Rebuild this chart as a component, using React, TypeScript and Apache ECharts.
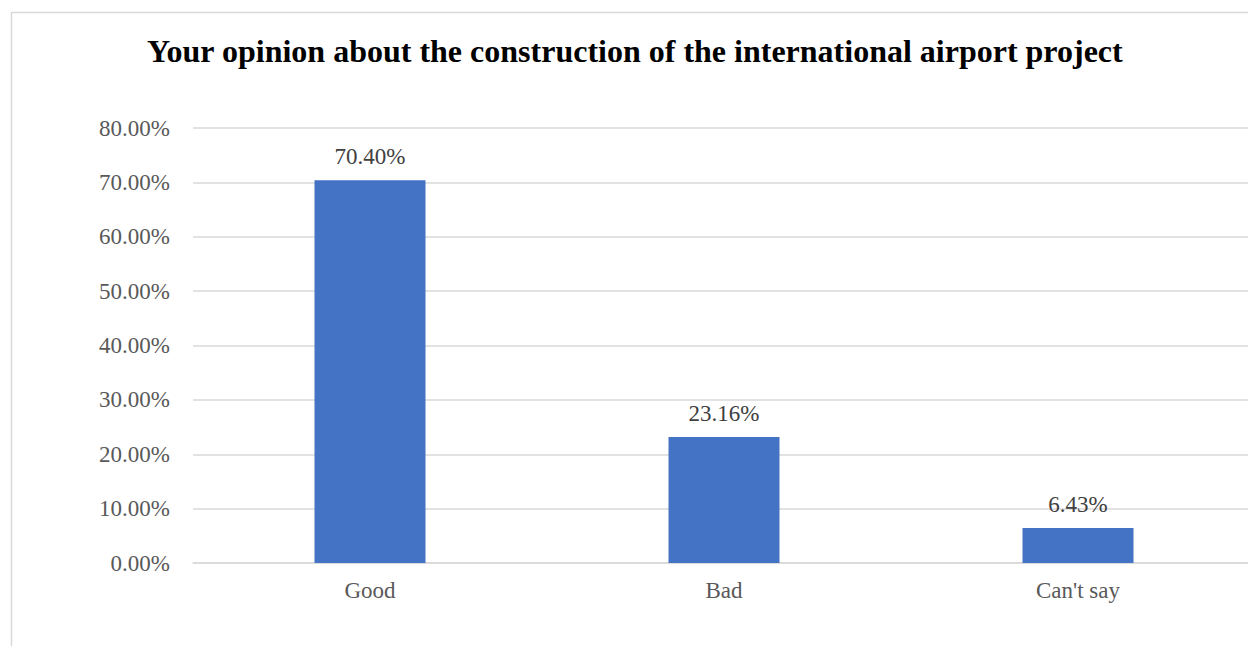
import React, { useEffect, useRef } from "react";
import * as echarts from "echarts";

const categories = ["Good", "Bad", "Can't say"];
const values = [70.4, 23.16, 6.43];
const titleText = "Your opinion about the construction of the international airport project";

export default function App() {
  const ref = useRef<HTMLDivElement>(null);
  useEffect(() => {
    if (!ref.current) return;
    const chart = echarts.init(ref.current, null, { renderer: "svg" });
    const font = "'Liberation Serif', 'Times New Roman', serif";
    chart.setOption({
      animation: false,
      backgroundColor: "#ffffff",
      title: {
        text: titleText,
        left: 142,
        top: 30,
        textStyle: { fontFamily: font, fontWeight: "bold", fontSize: 32, color: "#000000" },
      },
      graphic: [
        {
          type: "rect",
          shape: { x: 11.5, y: 12.5, width: 1400, height: 800 },
          style: { fill: "none", stroke: "#d9d9d9", lineWidth: 1.5 },
          silent: true,
        },
      ],
      grid: { left: 193, right: 5, top: 128, bottom: 83, containLabel: false },
      xAxis: {
        type: "category",
        data: categories,
        axisLine: { show: true, lineStyle: { color: "#d9d9d9", width: 1.5 } },
        axisTick: { show: false },
        axisLabel: { fontFamily: font, fontSize: 23, color: "#595959", margin: 16 },
      },
      yAxis: {
        type: "value",
        min: 0,
        max: 80,
        interval: 10,
        axisLine: { show: false },
        axisTick: { show: false },
        splitLine: { lineStyle: { color: "#d9d9d9", width: 1.5 } },
        axisLabel: {
          fontFamily: font,
          fontSize: 23,
          color: "#595959",
          margin: 23,
          formatter: (v: number) => v.toFixed(2) + "%",
        },
      },
      series: [
        {
          type: "bar",
          data: values,
          barWidth: 111,
          itemStyle: { color: "#4472c4" },
          label: {
            show: true,
            position: "top",
            distance: 12,
            fontFamily: font,
            fontSize: 23,
            color: "#404040",
            formatter: (p: any) => p.value.toFixed(2) + "%",
          },
        },
      ],
    });
    return () => chart.dispose();
  }, []);
  return (
    <div style={{ position: "absolute", left: 0, top: 0, width: 1248, height: 646, overflow: "hidden" }}>
      <div ref={ref} style={{ width: 1260, height: 646 }} />
    </div>
  );
}
